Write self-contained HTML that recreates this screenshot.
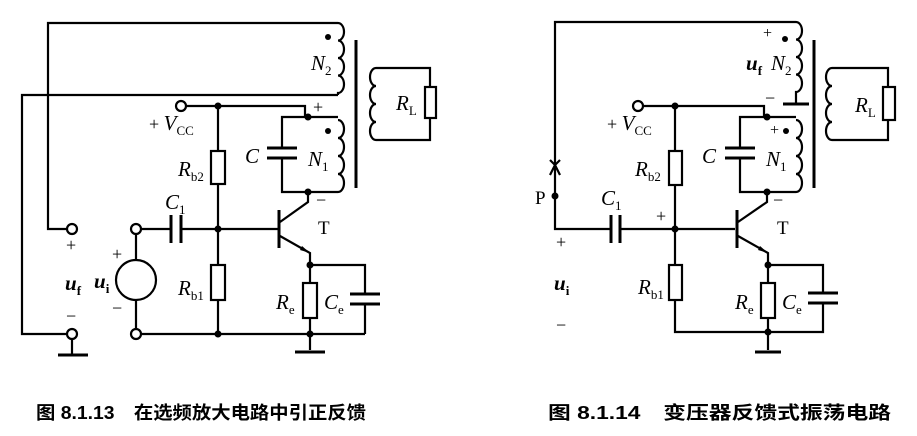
<!DOCTYPE html>
<html><head><meta charset="utf-8"><style>
body{margin:0;background:#fff}
svg{display:block}
text{font-family:"Liberation Serif","Noto Serif CJK SC",serif;fill:#000}
.i{font-style:italic;font-size:21px}
.s{font-size:13px;font-style:normal}
.c{font-family:"Liberation Sans","Noto Sans CJK SC",sans-serif;font-size:18px;font-weight:bold}
</style></head><body>
<svg width="917" height="436" viewBox="0 0 917 436" xmlns="http://www.w3.org/2000/svg">
<g fill="none" stroke="#000" stroke-width="2.2">
<path d="M338,23 H48 V229 H66"/>
<path d="M338,95 H22 V334 H66"/>
<path d="M338,23 a6,8.75 0 0 1 0,17.5 a6,8.75 0 0 1 0,17.5 a6,8.75 0 0 1 0,17.5 a6,8.75 0 0 1 0,17.5 V95"/>
<line x1="356" y1="40" x2="356" y2="188" stroke-width="3"/>
<path d="M376,68 H430 V87 M430,118 V140 H376"/>
<path d="M376,68 a6,9 0 0 0 0,18 a6,9 0 0 0 0,18 a6,9 0 0 0 0,18 a6,9 0 0 0 0,18"/>
<rect x="425" y="87" width="11" height="31"/>
<path d="M186,106 H305 V117 M308,117 H338"/>
<path d="M338,120 a6,9 0 0 1 0,18 a6,9 0 0 1 0,18 a6,9 0 0 1 0,18 a6,9 0 0 1 0,18 V192 H282 V158 M282,148 V117 H308"/>
<line x1="267" y1="148" x2="297" y2="148" stroke-width="3"/>
<line x1="267" y1="158" x2="297" y2="158" stroke-width="3"/>
<path d="M218,106 V151 M218,184 V265 M218,300 V334"/>
<rect x="211" y="151" width="14" height="33"/>
<rect x="211" y="265" width="14" height="35"/>
<path d="M141,229 H171 M181,229 H278"/>
<line x1="171" y1="215" x2="171" y2="243" stroke-width="3"/>
<line x1="181" y1="215" x2="181" y2="243" stroke-width="3"/>
<line x1="279" y1="210" x2="279" y2="248" stroke-width="3"/>
<path d="M280,222 L308,202 V192 M280,236 L310,253 V265"/>
<path d="M136,234 V260 M136,300 V329 M141,334 H365 M310,265 H365 V294 M365,304 V334 M310,265 V283 M310,318 V350"/>
<circle cx="136" cy="280" r="20"/>
<rect x="303" y="283" width="14" height="35"/>
<line x1="350" y1="294" x2="380" y2="294" stroke-width="3"/>
<line x1="350" y1="304" x2="380" y2="304" stroke-width="3"/>
<line x1="295" y1="352" x2="325" y2="352" stroke-width="3"/>
<path d="M72,339 V354"/><line x1="58" y1="355" x2="88" y2="355" stroke-width="3"/>
<circle cx="72" cy="229" r="5"/><circle cx="72" cy="334" r="5"/>
<circle cx="136" cy="229" r="5"/><circle cx="136" cy="334" r="5"/>
<circle cx="181" cy="106" r="5"/>

<path d="M796,22 H555 V229 H611 M620,229 H735"/>
<path d="M555,165 l-5,-5 M555,165 l5,-5 M555,165 l-5,10 M555,165 l5,10"/>
<path d="M796,22 a6,8.75 0 0 1 0,17.5 a6,8.75 0 0 1 0,17.5 a6,8.75 0 0 1 0,17.5 a6,8.75 0 0 1 0,17.5 V104"/>
<line x1="783" y1="104" x2="809" y2="104" stroke-width="3"/>
<line x1="814" y1="40" x2="814" y2="188" stroke-width="3"/>
<path d="M832,68 H888 V87 M888,120 V140 H832"/>
<path d="M832,68 a6,9 0 0 0 0,18 a6,9 0 0 0 0,18 a6,9 0 0 0 0,18 a6,9 0 0 0 0,18"/>
<rect x="883" y="87" width="12" height="33"/>
<path d="M643,106 H764 V117 M767,117 H796"/>
<path d="M796,120 a6,9 0 0 1 0,18 a6,9 0 0 1 0,18 a6,9 0 0 1 0,18 a6,9 0 0 1 0,18 V192 H740 V158 M740,148 V117 H767"/>
<line x1="725" y1="148" x2="755" y2="148" stroke-width="3"/>
<line x1="725" y1="158" x2="755" y2="158" stroke-width="3"/>
<line x1="611" y1="215" x2="611" y2="243" stroke-width="3"/>
<line x1="620" y1="215" x2="620" y2="243" stroke-width="3"/>
<path d="M675,106 V151 M675,185 V265 M675,300 V332 H823 V303 M823,293 V265 H768 M768,265 V283 M768,318 V350"/>
<rect x="669" y="151" width="13" height="34"/>
<rect x="669" y="265" width="13" height="35"/>
<line x1="737" y1="210" x2="737" y2="248" stroke-width="3"/>
<path d="M738,222 L767,202 V192 M738,236 L768,253 V265"/>
<rect x="761" y="283" width="14" height="35"/>
<line x1="808" y1="293" x2="838" y2="293" stroke-width="3"/>
<line x1="808" y1="303" x2="838" y2="303" stroke-width="3"/>
<line x1="755" y1="352" x2="781" y2="352" stroke-width="3"/>
<circle cx="638" cy="106" r="5"/>
</g>
<g fill="#000">
<circle cx="218" cy="106" r="3.5"/><circle cx="308" cy="117" r="3.5"/><circle cx="308" cy="192" r="3.5"/>
<circle cx="218" cy="229" r="3.5"/><circle cx="310" cy="265" r="3.5"/><circle cx="218" cy="334" r="3.5"/><circle cx="310" cy="334" r="3.5"/>
<circle cx="328" cy="37" r="3"/><circle cx="328" cy="131" r="3"/>
<path d="M300,250 l10,3 l-8,-7z"/>
<circle cx="675" cy="106" r="3.5"/><circle cx="767" cy="117" r="3.5"/><circle cx="767" cy="192" r="3.5"/>
<circle cx="675" cy="229" r="3.5"/><circle cx="768" cy="265" r="3.5"/><circle cx="768" cy="332" r="3.5"/><circle cx="555" cy="196" r="3.5"/>
<circle cx="785" cy="39" r="3"/><circle cx="786" cy="131" r="3"/>
<path d="M758,250 l10,3 l-8,-7z"/>
</g>
<text class="i" x="311" y="70">N<tspan class="s" dy="5">2</tspan></text>
<text class="i" x="396" y="110">R<tspan class="s" dy="5">L</tspan></text>
<text x="313" y="113" font-size="18">+</text>
<text x="316" y="206" font-size="18">−</text>
<text class="i" x="245" y="163">C</text>
<text class="i" x="308" y="166">N<tspan class="s" dy="5">1</tspan></text>
<text x="149" y="130" font-size="18">+ <tspan font-style="italic" font-size="21">V</tspan><tspan class="s" dy="5">CC</tspan></text>
<text class="i" x="178" y="176">R<tspan class="s" dy="5">b2</tspan></text>
<text class="i" x="165" y="209">C<tspan class="s" dy="5">1</tspan></text>
<text x="318" y="234" font-size="19">T</text>
<text x="66" y="251" font-size="18">+</text>
<text x="112" y="260" font-size="18">+</text>
<text x="112" y="314" font-size="18">−</text>
<text x="66" y="322" font-size="18">−</text>
<text class="i" x="65" y="290" font-weight="bold">u<tspan class="s" dy="5">f</tspan></text>
<text class="i" x="94" y="288" font-weight="bold">u<tspan class="s" dy="5">i</tspan></text>
<text class="i" x="178" y="295">R<tspan class="s" dy="5">b1</tspan></text>
<text class="i" x="276" y="309">R<tspan class="s" dy="5">e</tspan></text>
<text class="i" x="324" y="309">C<tspan class="s" dy="5">e</tspan></text>
<text x="763" y="38" font-size="16">+</text>
<text class="i" x="746" y="70" font-weight="bold">u<tspan class="s" dy="5">f</tspan></text>
<text class="i" x="771" y="70">N<tspan class="s" dy="5">2</tspan></text>
<text x="765" y="104" font-size="18">−</text>
<text class="i" x="855" y="112">R<tspan class="s" dy="5">L</tspan></text>
<text x="607" y="130" font-size="18">+ <tspan font-style="italic" font-size="21">V</tspan><tspan class="s" dy="5">CC</tspan></text>
<text x="770" y="135" font-size="16">+</text>
<text class="i" x="702" y="163">C</text>
<text class="i" x="766" y="166">N<tspan class="s" dy="5">1</tspan></text>
<text x="773" y="206" font-size="18">−</text>
<text class="i" x="635" y="176">R<tspan class="s" dy="5">b2</tspan></text>
<text x="535" y="204" font-size="19">P</text>
<text class="i" x="601" y="205">C<tspan class="s" dy="5">1</tspan></text>
<text x="656" y="222" font-size="18">+</text>
<text x="777" y="234" font-size="19">T</text>
<text x="556" y="248" font-size="18">+</text>
<text class="i" x="554" y="290" font-weight="bold">u<tspan class="s" dy="5">i</tspan></text>
<text x="556" y="331" font-size="18">−</text>
<text class="i" x="638" y="294">R<tspan class="s" dy="5">b1</tspan></text>
<text class="i" x="735" y="309">R<tspan class="s" dy="5">e</tspan></text>
<text class="i" x="782" y="309">C<tspan class="s" dy="5">e</tspan></text>
<text class="c" x="36" y="419" textLength="330" lengthAdjust="spacingAndGlyphs">图 8.1.13　在选频放大电路中引正反馈</text>
<text class="c" x="548" y="419" textLength="343" lengthAdjust="spacingAndGlyphs">图 8.1.14　变压器反馈式振荡电路</text>
</svg>
</body></html>
